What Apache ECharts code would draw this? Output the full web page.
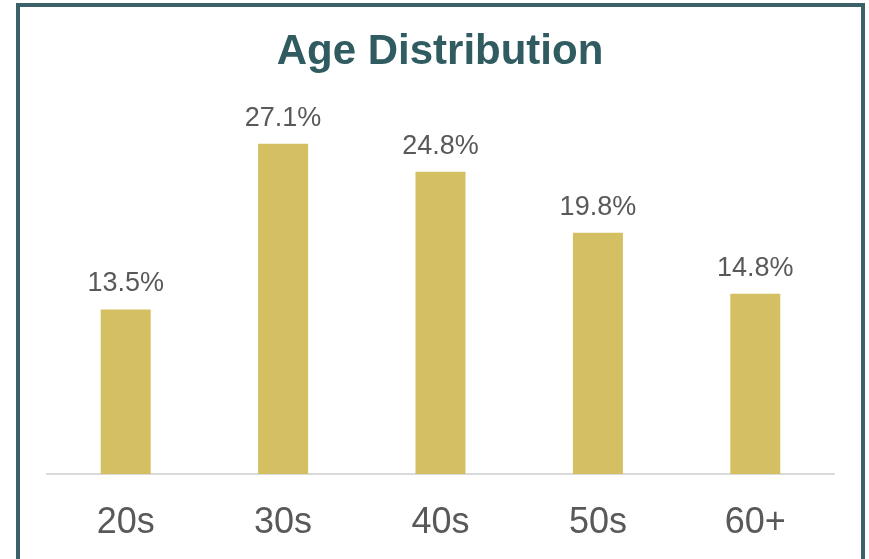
<!DOCTYPE html>
<html>
<head>
<meta charset="utf-8">
<script src="https://cdn.jsdelivr.net/npm/echarts@6/dist/echarts.min.js"></script>
<style>
html,body{margin:0;padding:0;background:#fff;}
#c{width:869px;height:559px;}
</style>
</head>
<body>
<div id="c"></div>
<script>
var categories = ['20s', '30s', '40s', '50s', '60+'];
var values = [13.5, 27.1, 24.8, 19.8, 14.8];
var chart = echarts.init(document.getElementById('c'), null, {renderer: 'canvas'});
chart.setOption({
  animation: false,
  graphic: [{
    type: 'rect',
    shape: {x: 18, y: 5, width: 845, height: 620},
    style: {fill: 'none', stroke: '#3A6068', lineWidth: 4},
    z: 10
  }, {
    type: 'text',
    x: 440,
    y: 52,
    style: {
      text: 'Age Distribution',
      textAlign: 'center',
      textVerticalAlign: 'middle',
      fontFamily: 'Liberation Sans, Arial, sans-serif',
      fontSize: 42,
      fontWeight: 'bold',
      fill: '#2F5B61'
    },
    z: 10
  }],
  grid: {left: 47, right: 35, top: 108.4, bottom: 85},
  xAxis: {
    type: 'category',
    data: categories,
    axisLine: {lineStyle: {color: '#D9D9D9', width: 2}},
    axisTick: {show: false},
    axisLabel: {
      margin: 31,
      fontSize: 36,
      color: '#595959',
      fontFamily: 'Liberation Sans, Arial, sans-serif'
    }
  },
  yAxis: {
    type: 'value',
    min: 0,
    max: 30,
    show: false,
    splitLine: {show: false}
  },
  series: [{
    type: 'bar',
    data: values,
    barWidth: 50,
    itemStyle: {color: '#D4BF62'},
    label: {
      show: true,
      position: 'top',
      distance: 12,
      formatter: function (p) { return p.value.toFixed(1) + '%'; },
      fontSize: 27,
      color: '#595959',
      fontFamily: 'Liberation Sans, Arial, sans-serif'
    }
  }]
});
</script>
</body>
</html>
